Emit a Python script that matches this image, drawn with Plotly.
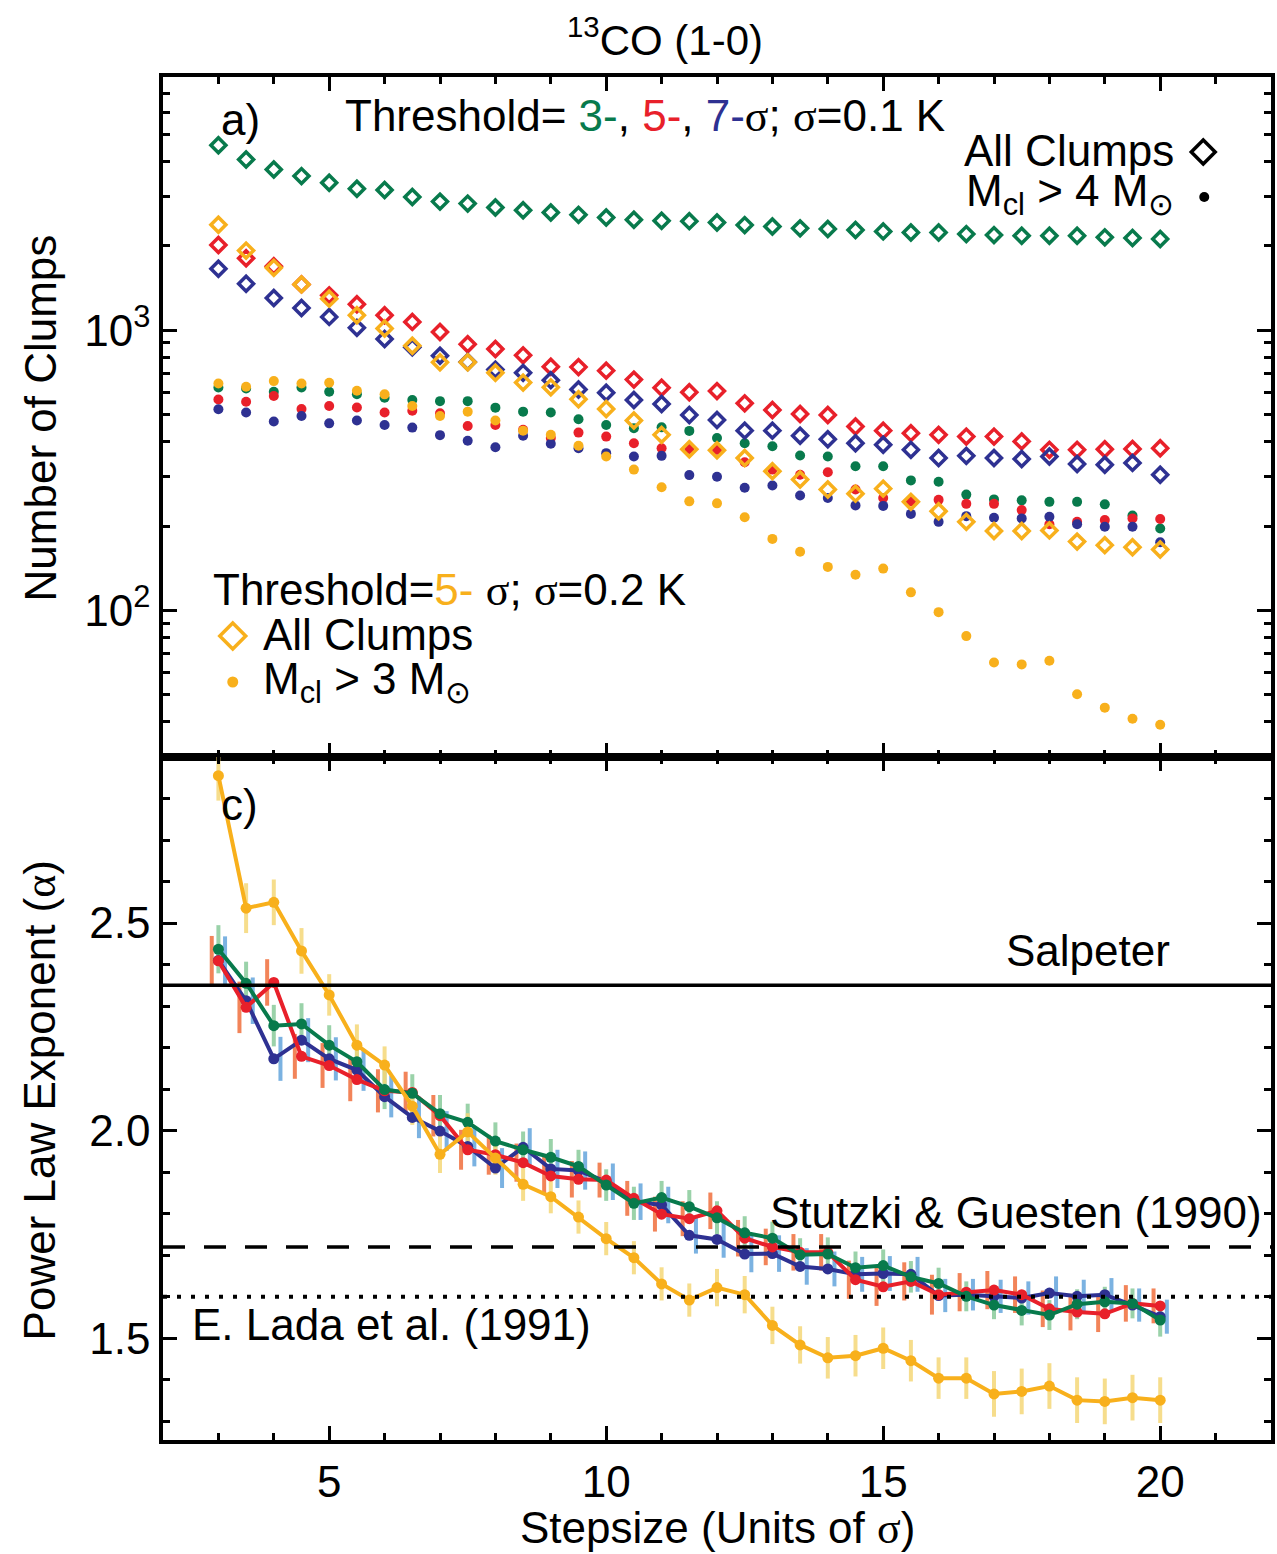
import math
import plotly.graph_objects as go
from plotly.subplots import make_subplots

# ---------------------------------------------------------------- data
stepsize = [3.0, 3.5, 4.0, 4.5, 5.0, 5.5, 6.0, 6.5, 7.0, 7.5, 8.0, 8.5,
            9.0, 9.5, 10.0, 10.5, 11.0, 11.5, 12.0, 12.5, 13.0, 13.5, 14.0,
            14.5, 15.0, 15.5, 16.0, 16.5, 17.0, 17.5, 18.0, 18.5, 19.0,
            19.5, 20.0]

# Number of clumps, sigma = 0.1 K, all clumps
n_all_3sig = [4567, 4062, 3744, 3545, 3357, 3196, 3163, 2987, 2874, 2828,
              2737, 2679, 2628, 2578, 2522, 2475, 2455, 2448, 2422, 2370,
              2344, 2307, 2294, 2275, 2250, 2231, 2231, 2201, 2183, 2172,
              2172, 2172, 2143, 2131, 2114]
n_all_5sig = [2013, 1805, 1691, 1456, 1331, 1237, 1130, 1070, 985, 890,
              856, 813, 740, 738, 717, 666, 623, 600, 606, 548,
              519, 502, 498, 453, 438, 429, 423, 417, 417, 401,
              374, 374, 376, 377, 379]
n_all_7sig = [1655, 1464, 1302, 1200, 1115, 1019, 930, 868, 810, 770,
              723, 704, 663, 614, 598, 563, 545, 498, 478, 438,
              438, 420, 408, 395, 390, 374, 350, 356, 350, 347,
              354, 333, 331, 336, 305]
# Number of clumps, sigma = 0.1 K, M_cl > 4 Msun
n_big_3sig = [624, 619, 603, 624, 603, 591, 574, 563, 558, 558,
              529, 512, 508, 481, 459, 447, 450, 437, 412, 395,
              385, 357, 354, 327, 327, 291, 288, 259, 249, 247,
              244, 244, 239, 218, 196]
n_big_5sig = [566, 555, 582, 523, 536, 530, 508, 516, 505, 455,
              459, 441, 412, 431, 417, 395, 379, 377, 374, 338,
              318, 305, 311, 270, 252, 245, 248, 240, 240, 228,
              203, 207, 210, 213, 212]
n_big_7sig = [522, 508, 472, 494, 465, 476, 459, 449, 422, 403,
              382, 420, 393, 379, 364, 354, 356, 304, 300, 274,
              279, 257, 252, 237, 236, 221, 207, 217, 214, 213,
              216, 203, 199, 199, 175]
# Number of clumps, 5 sigma with sigma = 0.2 K
n_all_02K = [2377, 1922, 1668, 1456, 1295, 1130, 1014, 880, 768, 768,
             705, 650, 625, 567, 523, 476, 423, 376, 373, 350,
             314, 293, 270, 261, 272, 244, 226, 207, 192, 192,
             193, 176, 171, 168, 165]
n_big_02K = [645, 628, 658, 645, 649, 608, 590, 536, 494, 512,
             476, 438, 423, 387, 354, 318, 275, 245, 241, 215,
             180, 162, 143, 134, 141, 116, 98.6, 81, 65.2, 64.2,
             66.1, 50.2, 45.0, 41.1, 39.1]

# Power-law exponent alpha and its uncertainty
alpha_3sig = [2.437, 2.355, 2.253, 2.257, 2.206, 2.166, 2.099, 2.090, 2.041, 2.020,
              1.975, 1.954, 1.936, 1.914, 1.869, 1.825, 1.839, 1.817, 1.790, 1.754,
              1.741, 1.701, 1.703, 1.670, 1.675, 1.648, 1.632, 1.601, 1.580, 1.567,
              1.556, 1.582, 1.588, 1.584, 1.544]
alpha_5sig = [2.409, 2.297, 2.357, 2.179, 2.157, 2.123, 2.096, 2.092, 2.036, 1.954,
              1.942, 1.923, 1.891, 1.883, 1.881, 1.837, 1.799, 1.788, 1.807, 1.741,
              1.720, 1.707, 1.707, 1.641, 1.624, 1.637, 1.605, 1.611, 1.616, 1.605,
              1.571, 1.563, 1.559, 1.584, 1.578]
alpha_7sig = [2.410, 2.313, 2.173, 2.218, 2.173, 2.146, 2.082, 2.032, 1.999, 1.962,
              1.910, 1.960, 1.908, 1.904, 1.877, 1.829, 1.821, 1.748, 1.738, 1.703,
              1.704, 1.673, 1.667, 1.654, 1.656, 1.654, 1.603, 1.605, 1.601, 1.597,
              1.609, 1.601, 1.605, 1.580, 1.552]
alpha_02K = [2.855, 2.536, 2.550, 2.433, 2.327, 2.206, 2.158, 2.059, 1.943, 1.997,
             1.934, 1.871, 1.841, 1.792, 1.740, 1.694, 1.631, 1.592, 1.622, 1.605,
             1.531, 1.484, 1.453, 1.458, 1.476, 1.446, 1.404, 1.404, 1.366, 1.372,
             1.385, 1.351, 1.348, 1.357, 1.351]

err_3sig = [0.058, 0.052, 0.050, 0.050, 0.048, 0.047, 0.047, 0.046, 0.045, 0.045,
            0.045, 0.044, 0.044, 0.040, 0.038, 0.040, 0.040, 0.040, 0.040, 0.040,
            0.040, 0.040, 0.040, 0.039, 0.039, 0.038, 0.038, 0.036, 0.034, 0.036,
            0.036, 0.036, 0.036, 0.036, 0.040]
err_5sig = [0.060, 0.062, 0.056, 0.054, 0.054, 0.052, 0.052, 0.050, 0.050, 0.048,
            0.048, 0.046, 0.046, 0.044, 0.042, 0.042, 0.042, 0.042, 0.044, 0.044,
            0.044, 0.044, 0.044, 0.046, 0.046, 0.046, 0.048, 0.046, 0.046, 0.044,
            0.044, 0.044, 0.044, 0.044, 0.042]
err_7sig = [0.058, 0.056, 0.053, 0.053, 0.052, 0.050, 0.050, 0.050, 0.048, 0.048,
            0.048, 0.046, 0.046, 0.046, 0.044, 0.044, 0.044, 0.044, 0.044, 0.044,
            0.044, 0.044, 0.042, 0.042, 0.042, 0.042, 0.040, 0.038, 0.040, 0.040,
            0.040, 0.040, 0.040, 0.040, 0.041]
err_02K = [0.060, 0.060, 0.055, 0.055, 0.050, 0.050, 0.045, 0.045, 0.045, 0.045,
           0.040, 0.040, 0.040, 0.040, 0.040, 0.040, 0.040, 0.040, 0.045, 0.045,
           0.045, 0.045, 0.050, 0.050, 0.050, 0.050, 0.050, 0.050, 0.055, 0.055,
           0.055, 0.055, 0.055, 0.055, 0.055]

# Reference slopes
salpeter = 2.35
stutzki_guesten = 1.72
lada = 1.60

# ---------------------------------------------------------------- style
GREEN = "#087a4c"
RED = "#e8202a"
BLUE = "#2e3192"
ORANGE = "#f8b01c"
GREEN_ERR = "rgba(120,195,140,0.75)"
RED_ERR = "rgba(240,110,60,0.85)"
BLUE_ERR = "rgba(100,165,220,0.85)"
ORANGE_ERR = "rgba(245,215,120,0.85)"

FONT = "Liberation Sans, Arial, Helvetica, sans-serif"
SERIF = "font-family:Liberation Serif, Times New Roman, serif"
FS = 44

W, H = 1277, 1554
ML, MR, MT, MB = 163, 2, 77, 114
PW, PH = W - ML - MR, H - MT - MB
split = (1440 - 757) / PH   # boundary between the two panels (paper units)


def px(x):
    return (x - ML) / PW


def py(y):
    return (H - MB - y) / PH


def sg(t):
    return f'<span style="{SERIF}">{t}</span>'


def col(t, c):
    return f'<span style="color:{c}">{t}</span>'


fig = make_subplots(rows=2, cols=1, shared_xaxes=True, vertical_spacing=0)

# ---------------------------------------------------------------- top panel
for ys, c in [(n_big_3sig, GREEN), (n_big_5sig, RED), (n_big_7sig, BLUE)]:
    fig.add_trace(go.Scatter(x=stepsize, y=ys, mode="markers",
                             marker=dict(symbol="circle", size=10, color=c),
                             showlegend=False), row=1, col=1)
for ys, c in [(n_all_3sig, GREEN), (n_all_5sig, RED), (n_all_7sig, BLUE)]:
    fig.add_trace(go.Scatter(x=stepsize, y=ys, mode="markers",
                             marker=dict(symbol="diamond-open", size=11.5, color=c,
                                         line=dict(width=3.5, color=c)),
                             showlegend=False), row=1, col=1)
fig.add_trace(go.Scatter(x=stepsize, y=n_big_02K, mode="markers",
                         marker=dict(symbol="circle", size=10, color=ORANGE),
                         showlegend=False), row=1, col=1)
fig.add_trace(go.Scatter(x=stepsize, y=n_all_02K, mode="markers",
                         marker=dict(symbol="diamond-open", size=11.5, color=ORANGE,
                                     line=dict(width=3.5, color=ORANGE)),
                         showlegend=False), row=1, col=1)

# ---------------------------------------------------------------- bottom panel
for ys, err, c, off in [(alpha_3sig, err_3sig, GREEN_ERR, 0.0),
                        (alpha_5sig, err_5sig, RED_ERR, -0.12),
                        (alpha_7sig, err_7sig, BLUE_ERR, 0.12),
                        (alpha_02K, err_02K, ORANGE_ERR, 0.0)]:
    fig.add_trace(go.Scatter(x=[s + off for s in stepsize], y=ys, mode="markers",
                             marker=dict(size=1, color="rgba(0,0,0,0)"),
                             error_y=dict(type="data", array=err, color=c,
                                          thickness=4, width=0),
                             showlegend=False, hoverinfo="skip"), row=2, col=1)

for ys, c in [(alpha_7sig, BLUE), (alpha_5sig, RED), (alpha_3sig, GREEN),
              (alpha_02K, ORANGE)]:
    fig.add_trace(go.Scatter(x=stepsize, y=ys, mode="lines+markers",
                             line=dict(color=c, width=4),
                             marker=dict(symbol="circle", size=11, color=c),
                             showlegend=False), row=2, col=1)

fig.add_hline(y=salpeter, row=2, col=1, line=dict(color="black", width=3.5))
fig.add_hline(y=stutzki_guesten, row=2, col=1,
              line=dict(color="black", width=3.5, dash="22px,19px"))
fig.add_hline(y=lada, row=2, col=1,
              line=dict(color="black", width=4, dash="4px,10px"))

# ---------------------------------------------------------------- axes
axis = dict(showline=True, linewidth=3.5, linecolor="black", mirror="ticks",
            ticks="inside", ticklen=14, tickwidth=3, tickcolor="black",
            showgrid=False, zeroline=False,
            tickfont=dict(family=FONT, size=FS, color="black"))
minor = dict(ticks="inside", ticklen=7, tickwidth=2.5, tickcolor="black",
             showgrid=False)

fig.update_xaxes(axis, range=[2, 22], tickmode="linear", tick0=0, dtick=5,
                 minor=dict(minor, tickmode="linear", tick0=0, dtick=1),
                 ticklabelstandoff=0)
fig.update_xaxes(showticklabels=False, row=1, col=1)

top_minor = [m * 10 ** e for e in (1, 2, 3) for m in range(2, 10)
             if 30 <= m * 10 ** e <= 8000]
fig.update_yaxes(axis, type="log", range=[math.log10(30), math.log10(8000)],
                 tickmode="array", tickvals=[100, 1000],
                 ticktext=["10<sup>2</sup>", "10<sup>3</sup>"],
                 minor=dict(minor, tickmode="array", tickvals=top_minor),
                 ticklabelstandoff=0, domain=[split, 1], row=1, col=1)
fig.update_yaxes(axis, range=[1.255, 2.9], tickmode="linear", tick0=0, dtick=0.5,
                 tickformat=".1f",
                 minor=dict(minor, tickmode="linear", tick0=0, dtick=0.1),
                 ticklabelstandoff=0, domain=[0, split], row=2, col=1)

# ---------------------------------------------------------------- text
def note(text, x, y, xa="left", size=FS, angle=0):
    fig.add_annotation(text=text, x=px(x), y=py(y), xref="paper", yref="paper",
                       xanchor=xa, yanchor="middle", showarrow=False,
                       textangle=angle,
                       font=dict(family=FONT, size=size, color="black"))


note("<sup>13</sup>CO (1-0)", 667, 37, xa="center", size=42)
note("a)", 219, 119)
note("Threshold= " + col("3-", GREEN) + ", " + col("5-", RED) + ", "
     + col("7-", BLUE) + sg("σ") + "; " + sg("σ") + "=0.1 K", 344, 116)
note("All Clumps", 1180, 150, xa="right")
note("M<sub>cl</sub> &gt; 4 M<sub>⊙</sub>", 1180, 194, xa="right")
note("Threshold=" + col("5-", ORANGE) + " " + sg("σ") + "; " + sg("σ")
     + "=0.2 K", 211, 590)
note("All Clumps", 261, 634)
note("M<sub>cl</sub> &gt; 3 M<sub>⊙</sub>", 261, 682)
note("c)", 219, 804)
note("Salpeter", 1176, 950, xa="right")
note("Stutzki &amp; Guesten (1990)", 1268, 1212, xa="right")
note("E. Lada et al. (1991)", 190, 1324)
note("Number of Clumps", 40, 418, xa="center", angle=-90)
note("Power Law Exponent (" + sg("α") + ")", 40, 1100, xa="center", angle=-90)
note("Stepsize (Units of " + sg("σ") + ")", 719, 1528, xa="center")


# legend glyphs drawn as shapes
def diamond(cx, cy, half, color):
    x0, x1, x2 = px(cx - half), px(cx), px(cx + half)
    y0, y1, y2 = py(cy - half), py(cy), py(cy + half)
    fig.add_shape(type="path", xref="paper", yref="paper",
                  path=f"M {x0},{y1} L {x1},{y0} L {x2},{y1} L {x1},{y2} Z",
                  line=dict(color=color, width=3.5))


def dot(cx, cy, r, color):
    fig.add_shape(type="circle", xref="paper", yref="paper",
                  x0=px(cx - r), x1=px(cx + r), y0=py(cy + r), y1=py(cy - r),
                  fillcolor=color, line=dict(color=color, width=0))


diamond(1207, 152, 12, "black")
dot(1208, 197, 5, "black")
diamond(233, 636, 13, ORANGE)
dot(233, 682, 5.5, ORANGE)

fig.update_layout(width=W, height=H, autosize=False,
                  margin=dict(l=ML, r=MR, t=MT, b=MB),
                  paper_bgcolor="white", plot_bgcolor="white",
                  font=dict(family=FONT, size=FS, color="black"),
                  showlegend=False)

fig.write_html("out.html")
